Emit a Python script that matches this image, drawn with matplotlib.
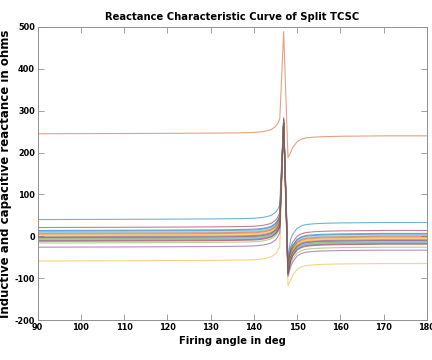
import matplotlib
matplotlib.use('Agg')
import matplotlib.pyplot as plt
import numpy as np

# MATLAB default line colour order
colors = ['#0072BD', '#D95319', '#EDB120', '#7E2F8E', '#77AC30', '#4DBEEE', '#A2142F']

# flat level of each curve below and above resonance (ohms)
level_left = [40, 245, -59, -26, -16, 9, 21, 12, 5, 3, -1, -4, -7, -10,
              14, 7, 1, -3, -6, -9, -12]
level_right = [33, 240, -65, -33, -26, 2, 14, 5, -2, -4, -8, -11, -14, -17,
               7, 0, -6, -10, -13, -16, -19]
peak = [284, 489, 262, 268, 270, 276, 280, 278, 276, 274, 272, 272, 270, 270,
        278, 276, 274, 272, 272, 270, 270]
dip = [-55, 188, -118, -96, -92, -78, -66, -80, -82, -84, -86, -88, -88, -90,
       -76, -80, -84, -86, -88, -90, -90]

# common approach to resonance (rise above the left level)
left_angle = [90, 100, 110, 120, 130, 135, 138, 140, 142, 143, 144, 145, 145.5, 146]
left_rise = [0, 0.3, 0.6, 1, 1.5, 2, 2.5, 3, 5, 7, 10, 17, 24, 35]
peak_angle = 146.9
dip_angle = 147.9
# recovery after resonance (shortfall below the right level)
right_angle = [148.5, 149, 150, 151, 152, 154, 156, 160, 165, 170, 180]
right_fall = [40, 28, 14, 8, 5, 3, 2, 1, 0.5, 0, 0]

fig = plt.figure(figsize=(4.32, 3.6), dpi=100)
ax = fig.add_axes([0.087, 0.111, 0.901, 0.814])

for i in range(len(level_left)):
    x = np.concatenate([left_angle, [peak_angle, dip_angle], right_angle])
    y = np.concatenate([level_left[i] + np.array(left_rise),
                        [peak[i], dip[i]],
                        level_right[i] - np.array(right_fall)])
    ax.plot(x, y, color=colors[i % len(colors)], lw=0.8, alpha=0.55)

ax.set_xlim(90, 180)
ax.set_ylim(-200, 500)
ax.set_xticks(np.arange(90, 181, 10))
ax.set_yticks(np.arange(-200, 501, 100))

tick_font = {'family': 'DejaVu Sans', 'weight': 'bold', 'size': 6.5,
             'stretch': 'condensed'}
ax.set_xticklabels([str(v) for v in range(90, 181, 10)], fontdict=tick_font)
ax.set_yticklabels([str(v) for v in range(-200, 501, 100)], fontdict=tick_font)
ax.tick_params(direction='in', top=True, right=True, length=4, width=0.6,
               color='#909090', pad=2)
for s in ax.spines.values():
    s.set_color('#909090')
    s.set_linewidth(0.7)

ax.set_title('Reactance Characteristic Curve of Split TCSC',
             family='DejaVu Sans', stretch='condensed', weight='bold', size=8, pad=5)
ax.set_xlabel('Firing angle in deg', family='DejaVu Sans', stretch='condensed',
              weight='bold', size=8, labelpad=3)
ax.set_ylabel('Inductive and capacitive reactance in ohms',
              family='DejaVu Sans', weight='bold', size=8.5)
ax.yaxis.set_label_coords(-0.066, 0.5)

fig.savefig('out.png', dpi=100)
